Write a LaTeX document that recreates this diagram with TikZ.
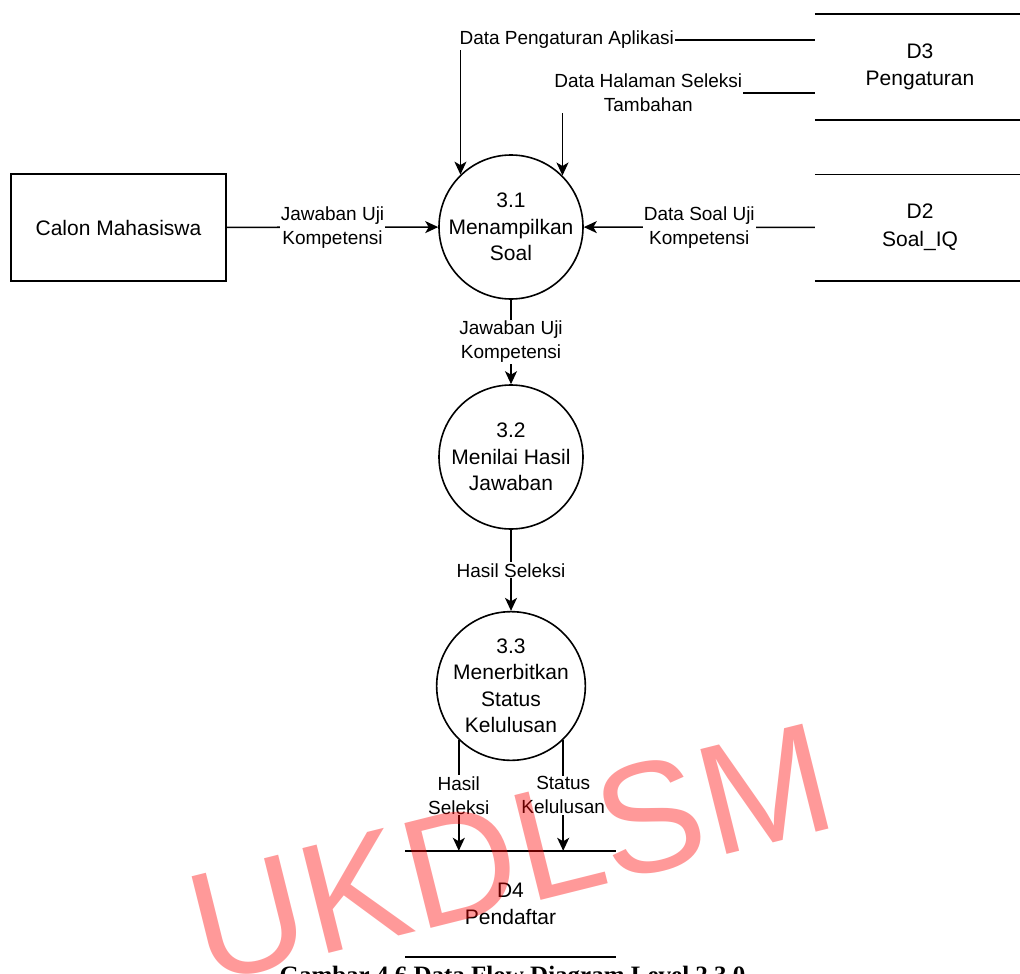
\documentclass[tikz,border=0pt]{standalone}
\usepackage{fontspec}
\setmainfont{Liberation Sans}
\newfontfamily\capfont{Liberation Serif}
\usetikzlibrary{arrows.meta}

\tikzset{
  wire/.style={line width=1.6pt},
  flow/.style={wire, -{Stealth[length=13pt,width=12pt,inset=3.5pt]}},
  proc/.style={circle, draw, line width=1.6pt, minimum size=144pt, inner sep=0pt, align=center, font=\fontsize{21}{26.5}\selectfont},
  entity/.style={draw, line width=1.6pt, minimum width=215pt, minimum height=107pt, font=\fontsize{21}{26.5}\selectfont},
  store/.style={minimum width=210pt, minimum height=106pt, align=center, font=\fontsize{21}{27.5}\selectfont},
  lbl/.style={fill=white, inner sep=1pt, align=center, font=\fontsize{19}{24}\selectfont},
  caption/.style={anchor=base, inner sep=0pt, font=\capfont\bfseries\fontsize{25}{30}\selectfont},
  wmark/.style={anchor=base, rotate=14, inner sep=0pt, text=red, text opacity=0.4, font=\fontsize{157}{157}\selectfont}
}

\begin{document}
\begin{tikzpicture}[x=1pt, y=-1pt]
        \useasboundingbox (0,0) rectangle (1020,974);
        \clip (0,0) rectangle (1020,974);
        % External entity and processes
        \node[entity] (calon) at (118.5,227.5) {Calon Mahasiswa};
        \node[proc] (p31) at (511,227) {3.1\\Menampilkan\\Soal};
        \node[proc] (p32) at (511,457) {3.2\\Menilai Hasil\\Jawaban};
        \node[proc] (p33) at (511,686) {3.3\\Menerbitkan\\Status\\Kelulusan};
        % Data stores
        \node[store] (d3) at (920,67) {D3\\Pengaturan};
        \node[store] (d2) at (920,227.5) {D2\\Soal\_IQ};
        \node[store] (d4) at (510.5,904) {D4\\Pendaftar};
        \foreach \s in {d3,d2,d4} \draw[wire] (\s.north west) -- (\s.north east) (\s.south west) -- (\s.south east);
        \coordinate (d3a) at ([yshift=27pt]d3.west); \coordinate (d3b) at ([yshift=-26pt]d3.west);
        % Flows
        \draw[flow] (calon) -- node[lbl] {Jawaban Uji\\Kompetensi} (p31);
        \draw[flow] (d2) -- node[lbl] {Data Soal Uji\\Kompetensi} (p31);
        \draw[flow] (d3a) -| node[lbl, pos=0.35] {Data Pengaturan Aplikasi} (p31.134);
        \draw[flow] (d3b) -| node[lbl, pos=0.33] {Data Halaman Seleksi\\Tambahan} (p31.45);
        \draw[flow] (p31) -- node[lbl] {Jawaban Uji\\Kompetensi} (p32);
        \draw[flow] (p32) -- node[lbl] {Hasil Seleksi} (p33);
        \draw[flow] (p33.226) -- node[lbl] {Hasil\\Seleksi} (p33.226 |- d4.north);
        \draw[flow] (p33.314) -- node[lbl] {Status\\Kelulusan} (p33.314 |- d4.north);
        % Caption and watermark
        \node[caption] (cap) at (512.5,983) {Gambar 4.6 Data Flow Diagram Level 2 3.0};
        \node[wmark] (wm) at (524,905) {UKDLSM};
    \end{tikzpicture}
\end{document}
